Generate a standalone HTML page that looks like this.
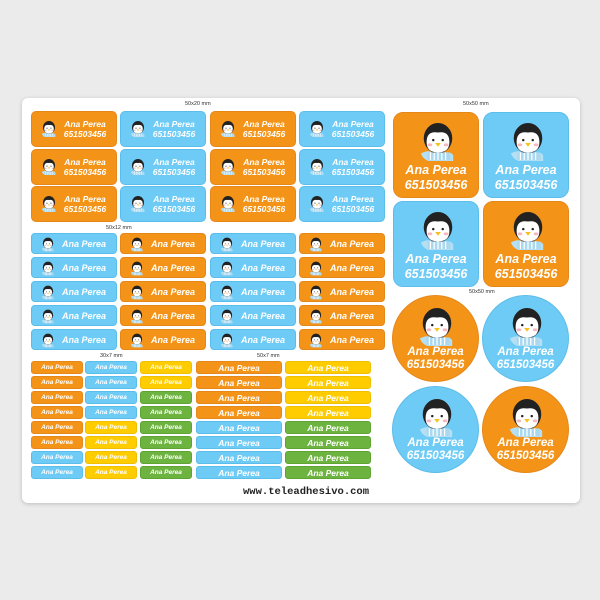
<!DOCTYPE html>
<html><head><meta charset="utf-8"><style>
*{margin:0;padding:0;box-sizing:border-box}
body{width:600px;height:600px;background:#ebebeb;position:relative;overflow:hidden;font-family:"Liberation Sans",sans-serif}
.sheet{position:absolute;left:22px;top:98px;width:558px;height:405px;background:#fff;border-radius:6px;box-shadow:0 1px 4px rgba(0,0,0,.2)}
.l{position:absolute;color:#fff;font-style:italic;font-weight:bold;border-radius:4px;overflow:hidden}
.O{background:#f39419;border:1px solid #e6871a}.B{background:#6ecbf5;border:1px solid #5bbde9}.Y{background:#ffcc00;border:1px solid #f0bf00}.G{background:#6db33f;border:1px solid #5fa333}
.a{width:86px;height:36px;border-radius:5px}
.a svg{position:absolute;left:9px;top:8px;width:16px;height:18px}
.a div{position:absolute;left:22px;right:0;top:8px;text-align:center;font-size:8.5px;line-height:9.5px}
.b{width:86px;height:21px}
.b svg{position:absolute;left:9px;top:3px;width:14px;height:15px}
.b div{position:absolute;left:20px;right:0;top:5px;text-align:center;font-size:9px}
.c{width:52px;height:13px;font-size:6.5px;text-align:center;line-height:12px;border-radius:3px}
.d{width:86px;height:13px;font-size:8.5px;text-align:center;line-height:12px;border-radius:3px}
.s{width:86px;height:86px;border-radius:10px}
.r{width:87px;height:87px;border-radius:50%}
.s svg,.r svg{position:absolute;left:25px;top:8px;width:38px;height:42px}
.s div,.r div{position:absolute;left:0;right:0;text-align:center;font-size:12.5px;line-height:15px}
.s div{top:50px}.r div{top:50px;font-size:11.5px;line-height:13px}
.mm{position:absolute;font-size:5.5px;color:#333}
</style></head><body>
<svg width="0" height="0" style="position:absolute"><defs>
<symbol id="p" viewBox="0 0 40 44"><path d="M2 34 Q10 30 14 33 L26 33 Q34 32 36 36 L36 42 L10 42 Q4 40 2 34Z" fill="#b5dff3"/><ellipse cx="20" cy="18" rx="15" ry="16" fill="#222"/><path d="M8 22 Q8 10 20 12 Q32 10 32 22 Q32 33 20 33 Q8 33 8 22Z" fill="#fff"/><circle cx="15" cy="20" r="1.3" fill="#222"/><circle cx="25" cy="20" r="1.3" fill="#222"/><ellipse cx="11.5" cy="25" rx="2.5" ry="1.5" fill="#f6b8c0"/><ellipse cx="28.5" cy="25" rx="2.5" ry="1.5" fill="#f6b8c0"/><path d="M17 23 L23 23 L20 27Z" fill="#f7c021"/><rect x="9" y="33" width="24" height="8" fill="#a9d8ef"/><path d="M12 33v8M16 33v8M20 33v8M24 33v8M28 33v8" stroke="#fff" stroke-width="1.3"/></symbol>
</defs></svg>
<div class="sheet"></div>
<div class="mm" style="left:185px;top:101px">50x20 mm</div>
<div class="mm" style="left:463px;top:101px">50x50 mm</div>
<div class="mm" style="left:106px;top:225px">50x12 mm</div>
<div class="mm" style="left:100px;top:353px">30x7 mm</div>
<div class="mm" style="left:257px;top:353px">50x7 mm</div>
<div class="mm" style="left:469px;top:289px">50x50 mm</div>

<!-- 50x20 -->
<div class="l a O" style="left:31px;top:111px"><svg><use href="#p"/></svg><div>Ana Perea<br>651503456</div></div>
<div class="l a B" style="left:120px;top:111px"><svg><use href="#p"/></svg><div>Ana Perea<br>651503456</div></div>
<div class="l a O" style="left:210px;top:111px"><svg><use href="#p"/></svg><div>Ana Perea<br>651503456</div></div>
<div class="l a B" style="left:299px;top:111px"><svg><use href="#p"/></svg><div>Ana Perea<br>651503456</div></div>
<div class="l a O" style="left:31px;top:149px"><svg><use href="#p"/></svg><div>Ana Perea<br>651503456</div></div>
<div class="l a B" style="left:120px;top:149px"><svg><use href="#p"/></svg><div>Ana Perea<br>651503456</div></div>
<div class="l a O" style="left:210px;top:149px"><svg><use href="#p"/></svg><div>Ana Perea<br>651503456</div></div>
<div class="l a B" style="left:299px;top:149px"><svg><use href="#p"/></svg><div>Ana Perea<br>651503456</div></div>
<div class="l a O" style="left:31px;top:186px"><svg><use href="#p"/></svg><div>Ana Perea<br>651503456</div></div>
<div class="l a B" style="left:120px;top:186px"><svg><use href="#p"/></svg><div>Ana Perea<br>651503456</div></div>
<div class="l a O" style="left:210px;top:186px"><svg><use href="#p"/></svg><div>Ana Perea<br>651503456</div></div>
<div class="l a B" style="left:299px;top:186px"><svg><use href="#p"/></svg><div>Ana Perea<br>651503456</div></div>

<!-- 50x12 -->
<div class="l b B" style="left:31px;top:233px"><svg><use href="#p"/></svg><div>Ana Perea</div></div>
<div class="l b O" style="left:120px;top:233px"><svg><use href="#p"/></svg><div>Ana Perea</div></div>
<div class="l b B" style="left:210px;top:233px"><svg><use href="#p"/></svg><div>Ana Perea</div></div>
<div class="l b O" style="left:299px;top:233px"><svg><use href="#p"/></svg><div>Ana Perea</div></div>
<div class="l b B" style="left:31px;top:257px"><svg><use href="#p"/></svg><div>Ana Perea</div></div>
<div class="l b O" style="left:120px;top:257px"><svg><use href="#p"/></svg><div>Ana Perea</div></div>
<div class="l b B" style="left:210px;top:257px"><svg><use href="#p"/></svg><div>Ana Perea</div></div>
<div class="l b O" style="left:299px;top:257px"><svg><use href="#p"/></svg><div>Ana Perea</div></div>
<div class="l b B" style="left:31px;top:281px"><svg><use href="#p"/></svg><div>Ana Perea</div></div>
<div class="l b O" style="left:120px;top:281px"><svg><use href="#p"/></svg><div>Ana Perea</div></div>
<div class="l b B" style="left:210px;top:281px"><svg><use href="#p"/></svg><div>Ana Perea</div></div>
<div class="l b O" style="left:299px;top:281px"><svg><use href="#p"/></svg><div>Ana Perea</div></div>
<div class="l b B" style="left:31px;top:305px"><svg><use href="#p"/></svg><div>Ana Perea</div></div>
<div class="l b O" style="left:120px;top:305px"><svg><use href="#p"/></svg><div>Ana Perea</div></div>
<div class="l b B" style="left:210px;top:305px"><svg><use href="#p"/></svg><div>Ana Perea</div></div>
<div class="l b O" style="left:299px;top:305px"><svg><use href="#p"/></svg><div>Ana Perea</div></div>
<div class="l b B" style="left:31px;top:329px"><svg><use href="#p"/></svg><div>Ana Perea</div></div>
<div class="l b O" style="left:120px;top:329px"><svg><use href="#p"/></svg><div>Ana Perea</div></div>
<div class="l b B" style="left:210px;top:329px"><svg><use href="#p"/></svg><div>Ana Perea</div></div>
<div class="l b O" style="left:299px;top:329px"><svg><use href="#p"/></svg><div>Ana Perea</div></div>

<!-- 30x7 -->
<div class="l c O" style="left:31px;top:361px">Ana Perea</div><div class="l c B" style="left:85px;top:361px">Ana Perea</div><div class="l c Y" style="left:140px;top:361px">Ana Perea</div>
<div class="l c O" style="left:31px;top:376px">Ana Perea</div><div class="l c B" style="left:85px;top:376px">Ana Perea</div><div class="l c Y" style="left:140px;top:376px">Ana Perea</div>
<div class="l c O" style="left:31px;top:391px">Ana Perea</div><div class="l c B" style="left:85px;top:391px">Ana Perea</div><div class="l c G" style="left:140px;top:391px">Ana Perea</div>
<div class="l c O" style="left:31px;top:406px">Ana Perea</div><div class="l c B" style="left:85px;top:406px">Ana Perea</div><div class="l c G" style="left:140px;top:406px">Ana Perea</div>
<div class="l c O" style="left:31px;top:421px">Ana Perea</div><div class="l c Y" style="left:85px;top:421px">Ana Perea</div><div class="l c G" style="left:140px;top:421px">Ana Perea</div>
<div class="l c O" style="left:31px;top:436px">Ana Perea</div><div class="l c Y" style="left:85px;top:436px">Ana Perea</div><div class="l c G" style="left:140px;top:436px">Ana Perea</div>
<div class="l c B" style="left:31px;top:451px">Ana Perea</div><div class="l c Y" style="left:85px;top:451px">Ana Perea</div><div class="l c G" style="left:140px;top:451px">Ana Perea</div>
<div class="l c B" style="left:31px;top:466px">Ana Perea</div><div class="l c Y" style="left:85px;top:466px">Ana Perea</div><div class="l c G" style="left:140px;top:466px">Ana Perea</div>

<!-- 50x7 -->
<div class="l d O" style="left:196px;top:361px">Ana Perea</div><div class="l d Y" style="left:285px;top:361px">Ana Perea</div>
<div class="l d O" style="left:196px;top:376px">Ana Perea</div><div class="l d Y" style="left:285px;top:376px">Ana Perea</div>
<div class="l d O" style="left:196px;top:391px">Ana Perea</div><div class="l d Y" style="left:285px;top:391px">Ana Perea</div>
<div class="l d O" style="left:196px;top:406px">Ana Perea</div><div class="l d Y" style="left:285px;top:406px">Ana Perea</div>
<div class="l d B" style="left:196px;top:421px">Ana Perea</div><div class="l d G" style="left:285px;top:421px">Ana Perea</div>
<div class="l d B" style="left:196px;top:436px">Ana Perea</div><div class="l d G" style="left:285px;top:436px">Ana Perea</div>
<div class="l d B" style="left:196px;top:451px">Ana Perea</div><div class="l d G" style="left:285px;top:451px">Ana Perea</div>
<div class="l d B" style="left:196px;top:466px">Ana Perea</div><div class="l d G" style="left:285px;top:466px">Ana Perea</div>

<div style="position:absolute;left:243px;top:486px;font-family:'Liberation Mono',monospace;font-weight:bold;font-size:10.5px;color:#222">www.teleadhesivo.com</div>

<!-- squares -->
<div class="l s O" style="left:393px;top:112px"><svg><use href="#p"/></svg><div>Ana Perea<br>651503456</div></div>
<div class="l s B" style="left:483px;top:112px"><svg><use href="#p"/></svg><div>Ana Perea<br>651503456</div></div>
<div class="l s B" style="left:393px;top:201px"><svg><use href="#p"/></svg><div>Ana Perea<br>651503456</div></div>
<div class="l s O" style="left:483px;top:201px"><svg><use href="#p"/></svg><div>Ana Perea<br>651503456</div></div>
<!-- circles -->
<div class="l r O" style="left:392px;top:295px"><svg style="top:10px"><use href="#p"/></svg><div>Ana Perea<br>651503456</div></div>
<div class="l r B" style="left:482px;top:295px"><svg style="top:10px"><use href="#p"/></svg><div>Ana Perea<br>651503456</div></div>
<div class="l r B" style="left:392px;top:386px"><svg style="top:10px"><use href="#p"/></svg><div>Ana Perea<br>651503456</div></div>
<div class="l r O" style="left:482px;top:386px"><svg style="top:10px"><use href="#p"/></svg><div>Ana Perea<br>651503456</div></div>
</body></html>
